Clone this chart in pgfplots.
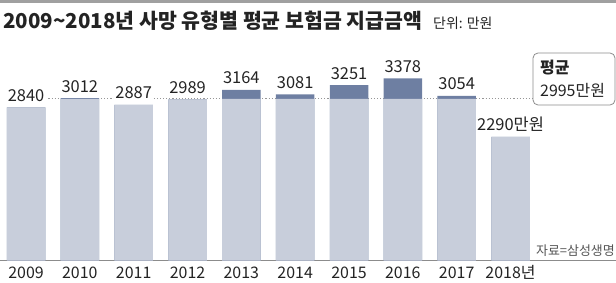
\documentclass[border=0pt]{standalone}
\usepackage{fontspec}
\setmainfont{Noto Sans CJK KR}
\usepackage{pgfplots}
\usepackage{pgfplotstable}
\pgfplotsset{compat=1.18}
\definecolor{barlight}{RGB}{200,206,219}
\definecolor{bardark}{RGB}{110,127,162}
\definecolor{topgray}{RGB}{160,160,160}
\definecolor{linegray}{RGB}{140,140,140}
\definecolor{dotgray}{RGB}{150,150,150}
\definecolor{txt}{RGB}{35,35,35}
\definecolor{srcgray}{RGB}{85,85,85}
\pgfplotstableread{
x total light label
0 2840 2840 2840
1 3012 2995 3012
2 2887 2887 2887
3 2989 2989 2989
4 3164 2995 3164
5 3081 2995 3081
6 3251 2995 3251
7 3378 2995 3378
8 3054 2995 3054
9 2290 2290 2290만원
}\datatable
\begin{document}
\begin{tikzpicture}[x=1bp,y=1bp]
\path[use as bounding box] (0,0) rectangle (616,282);
\fill[topgray] (0,278.5) rectangle (616,282);
\node[anchor=base west, inner sep=0, text=txt, font=\bfseries\fontsize{20.6}{24}\selectfont] at (3,254) {2009\char`\~2018년 사망 유형별 평균 보험금 지급금액};
\node[anchor=base west, inner sep=0, text=txt, font=\fontsize{14}{16}\selectfont] at (433,254) {단위: 만원};
\begin{axis}[
  at={(0,0)}, anchor=south west,
  scale only axis, width=616bp, height=282bp,
  xmin=-0.483, xmax=10.960, ymin=-398.6, ymax=4829.4,
  clip=false,
  axis x line=middle, axis y line=none,
  axis line style={-, linegray, line width=0.9bp},
  xtick={0,...,9},
  xticklabels={2009,2010,2011,2012,2013,2014,2015,2016,2017,2018년},
  major tick length=0pt,
  xticklabel style={anchor=base, yshift=-17.5bp, inner sep=0, text=txt, font=\fontsize{16}{18}\selectfont},
  ytick=\empty,
]
\addplot[dotgray, line width=1.1bp, dash pattern=on 1.1bp off 2bp] coordinates {(0.36,2995) (9.42,2995)};
\addplot[ybar, bar width=38.5bp, bar shift=0pt, fill=bardark, draw=none] table[x=x, y=total] {\datatable};
\addplot[ybar, bar width=38.5bp, bar shift=0pt, fill=barlight, draw=none] table[x=x, y=light] {\datatable};
\addplot[draw=none, mark=none, nodes near coords, point meta=explicit symbolic,
  every node near coord/.style={anchor=base, yshift=6bp, fill=white, inner sep=1.5bp, text=txt, font=\fontsize{16.5}{18}\selectfont}]
  table[x=x, y=total, meta=label] {\datatable};
\end{axis}
\draw[linegray, rounded corners=5bp, line width=0.8bp] (533,229) rectangle (615,177);
\node[anchor=base west, inner sep=0, text=txt, font=\bfseries\fontsize{16}{18}\selectfont] at (540,209) {평균};
\node[anchor=base west, inner sep=0, text=txt, font=\fontsize{16}{18}\selectfont] at (540,186) {2995만원};
\node[anchor=base east, inner sep=0, text=srcgray, font=\fontsize{13}{15}\selectfont] at (615,27) {자료=삼성생명};
\end{tikzpicture}
\end{document}
